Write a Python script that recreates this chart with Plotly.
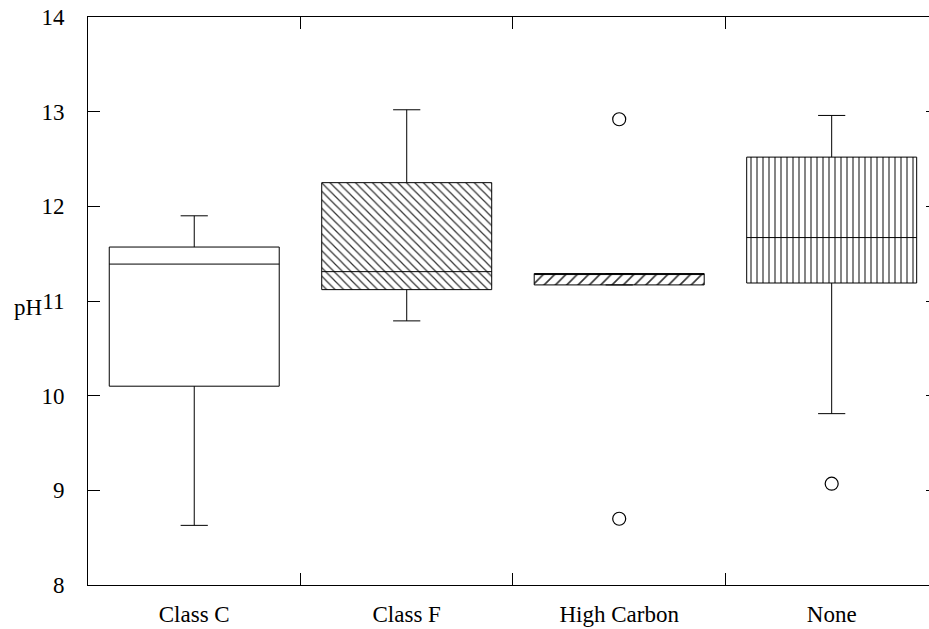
import plotly.graph_objects as go

categories = ["Class C", "Class F", "High Carbon", "None"]
lower_whisker = [8.63, 10.79, 11.17, 9.81]
q1_values = [10.10, 11.12, 11.17, 11.19]
median_values = [11.39, 11.31, 11.29, 11.67]
q3_values = [11.57, 12.25, 11.29, 12.52]
upper_whisker = [11.90, 13.02, 11.29, 12.96]
outlier_cats = ["High Carbon", "High Carbon", "None"]
outlier_values = [12.92, 8.70, 9.07]
y_ticks = [8, 9, 10, 11, 12, 13, 14]

patterns = ["", "\\", "/", "|"]
pattern_sizes = [6, 6, 8, 6]

FONT = "Liberation Serif, Times New Roman, serif"

fig = go.Figure()

fig.add_trace(go.Bar(
    x=categories,
    y=[b - a for a, b in zip(q1_values, q3_values)],
    base=q1_values,
    width=0.8,
    marker=dict(
        color="white",
        line=dict(width=0),
        pattern=dict(shape=patterns, size=pattern_sizes, solidity=0.2,
                     fgcolor="#333333", bgcolor="white", fillmode="replace"),
    ),
    showlegend=False,
    hoverinfo="skip",
))

fig.add_trace(go.Box(
    x=categories,
    q1=q1_values,
    median=median_values,
    q3=q3_values,
    lowerfence=lower_whisker,
    upperfence=upper_whisker,
    width=0.8,
    whiskerwidth=0.16,
    fillcolor="rgba(0,0,0,0)",
    line=dict(color="black", width=1),
    boxpoints=False,
    showlegend=False,
))

fig.add_trace(go.Scatter(
    x=outlier_cats,
    y=outlier_values,
    mode="markers",
    marker=dict(symbol="circle-open", size=13, color="black", line=dict(width=1.2)),
    showlegend=False,
))

fig.add_trace(go.Scatter(
    x=[categories[0]], y=[None], yaxis="y2", mode="markers",
    showlegend=False, hoverinfo="skip",
))

fig.update_layout(
    width=929,
    height=629,
    margin=dict(l=88, r=0, t=17, b=44, autoexpand=False),
    plot_bgcolor="white",
    paper_bgcolor="white",
    font=dict(family=FONT, size=23, color="black"),
    barmode="overlay",
    boxmode="overlay",
    xaxis=dict(
        type="category",
        categoryorder="array",
        categoryarray=categories,
        range=[-0.5, 3.458],
        automargin=False,
        showline=True,
        linecolor="black",
        linewidth=1,
        mirror="ticks",
        ticks="inside",
        ticklen=12,
        tickcolor="black",
        tickson="boundaries",
        showgrid=False,
        zeroline=False,
        ticklabelstandoff=8,
        tickfont=dict(family=FONT, size=23),
    ),
    yaxis=dict(
        range=[8, 14],
        tickvals=y_ticks,
        ticktext=[str(v) for v in y_ticks],
        automargin=False,
        showline=True,
        linecolor="black",
        linewidth=1,
        ticks="inside",
        ticklen=12,
        tickcolor="black",
        showgrid=False,
        zeroline=False,
        ticklabelstandoff=18,
        tickfont=dict(family=FONT, size=23),
    ),
    yaxis2=dict(
        overlaying="y",
        side="right",
        anchor="x",
        range=[8, 14],
        tickvals=y_ticks,
        automargin=False,
        showticklabels=False,
        ticks="inside",
        ticklen=3,
        tickcolor="black",
        showline=False,
        showgrid=False,
        zeroline=False,
    ),
    annotations=[dict(
        text="pH", xref="paper", yref="y", x=-0.0713, y=10.93,
        xanchor="center", yanchor="middle", showarrow=False,
        font=dict(family=FONT, size=23, color="black"),
    )],
)

fig.write_html(
    "out.html",
    config={"displayModeBar": False},
    post_script="document.body.style.margin='0';document.body.style.overflow='hidden';",
)
